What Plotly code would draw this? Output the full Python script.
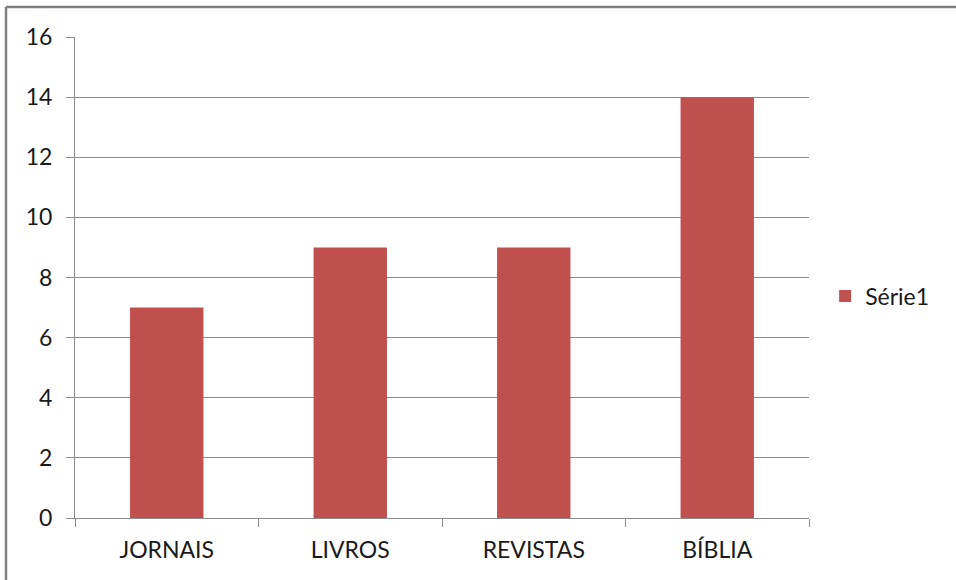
import plotly.graph_objects as go

categories = ["JORNAIS", "LIVROS", "REVISTAS", "BÍBLIA"]
values = [7, 9, 9, 14]
y_ticks = [0, 2, 4, 6, 8, 10, 12, 14, 16]
series_name = "Série1"

bar_color = "#C0504D"
line_color = "#8C8C8C"
font = dict(family="Lato, Open Sans, sans-serif", size=23, color="#1a1a1a")

fig = go.Figure(
    go.Bar(
        x=categories,
        y=values,
        name=series_name,
        marker=dict(color=bar_color, line=dict(width=0)),
        showlegend=True,
    )
)

fig.update_layout(
    width=956,
    height=580,
    margin=dict(l=75, r=147, t=37, b=62),
    paper_bgcolor="white",
    plot_bgcolor="white",
    font=font,
    bargap=0.6,
    legend=dict(
        x=1.022,
        y=0.4615,
        xanchor="left",
        yanchor="middle",
        font=font,
        itemwidth=30,
    ),
    shapes=[
        # outer chart frame (left and top edges)
        dict(type="line", xref="paper", yref="paper",
             x0=-0.094, x1=-0.094, y0=-0.2, y1=1.0624,
             line=dict(color="#808080", width=2.5)),
        dict(type="line", xref="paper", yref="paper",
             x0=-0.094, x1=1.25, y0=1.0624, y1=1.0624,
             line=dict(color="#808080", width=2.5)),
    ],
)

fig.update_xaxes(
    type="category",
    tickson="boundaries",
    ticks="outside",
    ticklen=8,
    tickcolor=line_color,
    showline=True,
    linecolor=line_color,
    linewidth=1,
    showgrid=False,
    tickfont=font,
    ticklabelstandoff=11,
)

fig.update_yaxes(
    range=[0, 16],
    tickvals=y_ticks,
    ticks="outside",
    ticklen=8,
    tickcolor=line_color,
    showline=True,
    linecolor=line_color,
    linewidth=1,
    showgrid=True,
    gridcolor=line_color,
    gridwidth=1,
    zeroline=False,
    tickfont=font,
    ticklabelstandoff=9,
)

fig.write_html("out.html")
